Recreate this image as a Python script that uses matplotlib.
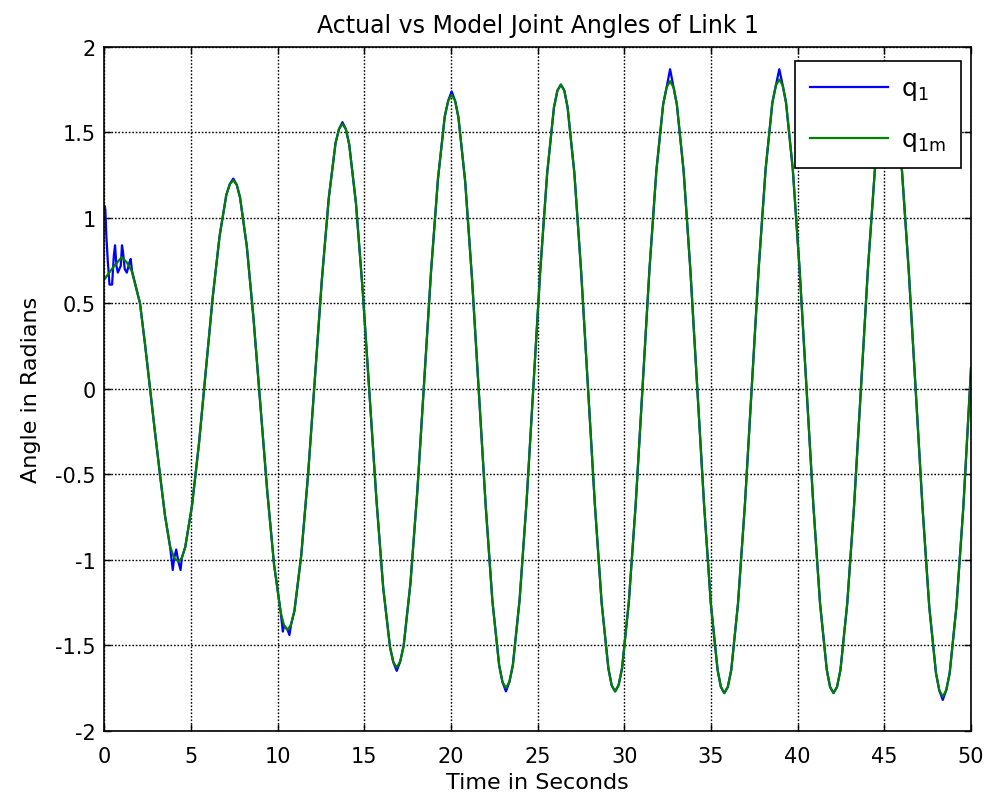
import matplotlib
matplotlib.use("Agg")
import matplotlib.pyplot as plt

plt.rcParams['font.family'] = ['DejaVu Sans']
plt.rcParams['mathtext.fontset'] = 'dejavusans'

# ---- data ----
t_model = [0.0, 0.5, 1.0, 1.3, 1.58, 2.06, 2.35, 2.64, 2.92, 3.21, 3.5, 3.79, 4.03, 4.27, 4.47,
           4.67, 5.06, 5.46, 5.855, 6.25, 6.65, 7.04, 7.24, 7.44, 7.64,
           7.83, 8.22, 8.61, 9.005, 9.40, 9.79, 10.18, 10.37, 10.57, 10.77,
           10.97, 11.36, 11.76, 12.155, 12.55, 12.95, 13.34, 13.54, 13.74, 13.94,
           14.13, 14.52, 14.91, 15.305, 15.70, 16.09, 16.48, 16.67, 16.87, 17.07,
           17.27, 17.66, 18.06, 18.455, 18.85, 19.25, 19.64, 19.84, 20.04, 20.24,
           20.43, 20.82, 21.21, 21.605, 22.0, 22.39, 22.78, 22.97, 23.17, 23.37,
           23.57, 23.96, 24.36, 24.755, 25.15, 25.55, 25.94, 26.14, 26.34, 26.54,
           26.73, 27.12, 27.51, 27.905, 28.30, 28.69, 29.08, 29.27, 29.47, 29.67,
           29.87, 30.26, 30.66, 31.055, 31.45, 31.85, 32.24, 32.44, 32.64, 32.84,
           33.03, 33.42, 33.81, 34.205, 34.60, 34.99, 35.38, 35.57, 35.77, 35.97,
           36.17, 36.56, 36.96, 37.355, 37.75, 38.15, 38.54, 38.74, 38.94, 39.14,
           39.33, 39.72, 40.11, 40.505, 40.90, 41.29, 41.68, 41.87, 42.07, 42.27,
           42.47, 42.86, 43.26, 43.655, 44.05, 44.45, 44.84, 45.04, 45.24, 45.44,
           45.63, 46.02, 46.41, 46.805, 47.20, 47.59, 47.98, 48.17, 48.37, 48.57,
           48.77, 49.16, 49.56, 49.93, 50.0]
q1m = [0.64, 0.71, 0.77, 0.74, 0.69, 0.50, 0.26, 0.0, -0.25, -0.50, -0.74, -0.92, -0.99, -1.01, -0.99,
       -0.925, -0.683, -0.322, 0.105, 0.532, 0.893, 1.135, 1.198, 1.22, 1.194,
       1.120, 0.835, 0.409, -0.095, -0.599, -1.025, -1.310, -1.384, -1.41, -1.38,
       -1.298, -0.976, -0.497, 0.07, 0.637, 1.116, 1.438, 1.52, 1.55, 1.518,
       1.429, 1.084, 0.569, -0.04, -0.649, -1.164, -1.509, -1.598, -1.63, -1.596,
       -1.503, -1.139, -0.597, 0.045, 0.687, 1.229, 1.593, 1.686, 1.72, 1.685,
       1.588, 1.212, 0.650, -0.015, -0.680, -1.242, -1.618, -1.715, -1.75, -1.715,
       -1.616, -1.233, -0.661, 0.015, 0.691, 1.263, 1.646, 1.745, 1.78, 1.745,
       1.645, 1.260, 0.685, 0.005, -0.675, -1.250, -1.635, -1.735, -1.77, -1.734,
       -1.634, -1.247, -0.669, 0.015, 0.699, 1.277, 1.664, 1.764, 1.80, 1.764,
       1.664, 1.276, 0.696, 0.01, -0.676, -1.256, -1.644, -1.744, -1.78, -1.744,
       -1.644, -1.254, -0.672, 0.015, 0.702, 1.284, 1.674, 1.774, 1.81, 1.774,
       1.674, 1.284, 0.702, 0.015, -0.672, -1.254, -1.644, -1.744, -1.78, -1.744,
       -1.644, -1.256, -0.676, 0.01, 0.696, 1.276, 1.664, 1.764, 1.80, 1.764,
       1.663, 1.273, 0.689, 0.0, -0.689, -1.273, -1.663, -1.764, -1.80, -1.764,
       -1.663, -1.273, -0.689, 0.0, 0.12]
assert len(t_model) == len(q1m)

# actual joint angle: start transient, then follows the model with small deviations
t_q1_head = [0.0, 0.02, 0.06, 0.12, 0.2, 0.3, 0.45, 0.55, 0.62, 0.7, 0.78, 0.95,
             1.02, 1.08, 1.18, 1.3, 1.45, 1.52, 1.6]
q1_head = [1.07, 1.07, 1.05, 0.89, 0.75, 0.61, 0.61, 0.78, 0.84, 0.72, 0.68, 0.72,
           0.84, 0.80, 0.70, 0.68, 0.74, 0.76, 0.69]
t_q1_extra = [3.95, 4.15, 4.40, 10.30, 10.68]
q1_extra = [-1.06, -0.94, -1.06, -1.42, -1.44]
q1_extreme_t = [7.44, 13.74, 16.87, 20.04, 23.17, 32.64, 38.94, 48.37]
q1_extreme_v = [1.23, 1.56, -1.65, 1.74, -1.77, 1.87, 1.87, -1.82]

xticks = [0, 5, 10, 15, 20, 25, 30, 35, 40, 45, 50]
yticks = [-2, -1.5, -1, -0.5, 0, 0.5, 1, 1.5, 2]
ytick_labels = ['-2', '-1.5', '-1', '-0.5', '0', '0.5', '1', '1.5', '2']

# build actual series
override = dict(zip(q1_extreme_t, q1_extreme_v))
pts = list(zip(t_q1_head, q1_head))
for t, v in zip(t_model, q1m):
    if t >= 2.0:
        pts.append((t, override.get(t, v)))
pts += list(zip(t_q1_extra, q1_extra))
pts.sort(key=lambda p: p[0])
t_q1 = [p[0] for p in pts]
q1 = [p[1] for p in pts]

# ---- figure ----
fig = plt.figure(figsize=(9.9, 8.04), dpi=100)
ax = fig.add_axes([104.3 / 990, (804 - 731.7) / 804, 866.7 / 990, 683.7 / 804])

ax.plot(t_q1, q1, color='#0000FF', lw=1.6, label=r'q$_\mathrm{1}$')
ax.plot(t_model, q1m, color='#008000', lw=1.6, label=r'q$_\mathrm{1m}$')

ax.set_xlim(0, 50)
ax.set_ylim(-2, 2)
ax.set_xticks(xticks)
ax.set_yticks(yticks)
ax.set_yticklabels(ytick_labels)
ax.grid(True, color='black', linestyle=(0, (1.2, 1.3)), linewidth=1.0)
ax.tick_params(direction='in', length=5, width=1, labelsize=15, top=True, right=True)
ax.tick_params(axis='x', pad=11)
ax.tick_params(axis='y', pad=6)
for s in ax.spines.values():
    s.set_linewidth(1.2)

ax.set_title('Actual vs Model Joint Angles of Link 1', fontsize=17, pad=11)
ax.set_xlabel('Time in Seconds', fontsize=16, labelpad=4)
ax.set_ylabel('Angle in Radians', fontsize=16, labelpad=10)

leg = ax.legend(loc='upper right', bbox_to_anchor=(0.988, 0.979), borderaxespad=0,
                fontsize=18, handlelength=3.15, handletextpad=0.5, labelspacing=1.0,
                borderpad=0.6, fancybox=False, framealpha=1, edgecolor='black')
leg.get_frame().set_linewidth(1.2)

fig.savefig('out.png', dpi=100)
